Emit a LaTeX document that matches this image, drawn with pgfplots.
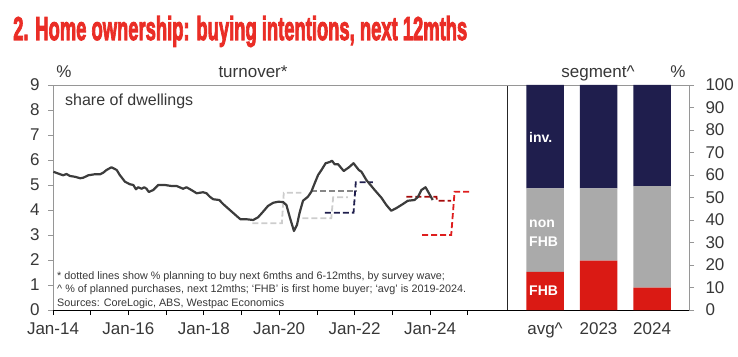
\documentclass[border=0pt]{standalone}
\usepackage{pgfplots}
\pgfplotsset{compat=1.18}
\usepackage{fontspec}
\setmainfont{Liberation Sans}
\newfontfamily\titlefont{Liberation Sans}[BoldFeatures={FakeBold=3.5}]
\definecolor{titlered}{RGB}{234,45,38}
\definecolor{navy}{RGB}{31,30,77}
\definecolor{bargray}{RGB}{170,170,170}
\definecolor{barred}{RGB}{218,26,20}
\definecolor{linecol}{RGB}{60,60,60}
\definecolor{lgray}{RGB}{205,205,205}
\definecolor{mgray}{RGB}{135,135,135}
\definecolor{dred}{RGB}{165,10,10}
\definecolor{bred}{RGB}{222,30,30}
\definecolor{labelgray}{RGB}{55,55,55}
\definecolor{axgray}{RGB}{150,150,150}
\begin{document}
\begin{tikzpicture}[x=1pt,y=1pt]
\useasboundingbox (0,0) rectangle (738,356);
\node[anchor=base west, inner sep=0, text=titlered] at (13,316) {\resizebox{454pt}{24pt}{\titlefont\bfseries 2. Home ownership: buying intentions, next 12mths}};

\begin{axis}[
 at={(53pt,46pt)}, anchor=south west, width=454pt, height=225pt, scale only axis,
 xmin=2014, xmax=2026.04, ymin=0, ymax=9,
 axis x line*=bottom, axis y line*=left,
 x axis line style={black, -, line width=0.8pt},
 y axis line style={axgray, -, line width=0.8pt},
 xtick={2014,...,2025},
 xticklabels={Jan-14,,Jan-16,,Jan-18,,Jan-20,,Jan-22,,Jan-24,},
 ytick={0,...,9},
 tick align=outside, major tick length=5pt,
 xtick style={black, line width=0.8pt}, ytick style={axgray, line width=0.8pt},
 ticklabel style={font=\fontsize{17}{17}\selectfont, text=labelgray},
 xticklabel style={yshift=-4pt},
 yticklabel style={xshift=-5pt},
 /pgf/number format/assume math mode=true,
 clip=false,
]
\addplot[lgray, line width=1.8pt, dash pattern=on 6pt off 3pt] coordinates {(2019.29,3.47) (2020.07,3.47) (2020.12,4.69) (2020.59,4.69)};
\addplot[lgray, line width=1.8pt, dash pattern=on 6pt off 3pt] coordinates {(2020.61,3.67) (2021.38,3.67) (2021.43,4.51) (2021.82,4.51)};
\addplot[mgray, line width=1.8pt, dash pattern=on 6pt off 3pt] coordinates {(2020.85,4.77) (2022.05,4.77)};
\addplot[navy, line width=1.8pt, dash pattern=on 6pt off 3pt] coordinates {(2021.21,3.89) (2021.97,3.89) (2022.03,5.11) (2022.48,5.11)};
\addplot[dred, line width=1.8pt, dash pattern=on 6pt off 3pt] coordinates {(2023.37,4.53) (2024.17,4.53) (2024.18,4.37) (2024.56,4.37)};
\addplot[bred, line width=1.8pt, dash pattern=on 6pt off 3pt] coordinates {(2023.79,3.0) (2024.56,3.0) (2024.65,4.73) (2025.05,4.73)};
\addplot[linecol, line width=2.2pt, line join=round] coordinates {
(2014.01,5.53) (2014.19,5.43) (2014.27,5.39) (2014.36,5.44) (2014.45,5.36) (2014.58,5.33) (2014.72,5.27) (2014.80,5.29) (2014.94,5.39) (2015.11,5.43) (2015.25,5.43) (2015.33,5.49) (2015.42,5.60) (2015.55,5.71) (2015.69,5.60) (2015.77,5.40) (2015.91,5.13) (2016.04,5.03) (2016.13,5.00) (2016.20,4.83) (2016.26,4.91) (2016.35,4.85) (2016.42,4.91) (2016.48,4.85) (2016.54,4.72) (2016.66,4.80) (2016.79,5.00) (2016.97,5.00) (2017.14,4.96) (2017.28,4.96) (2017.45,4.85) (2017.54,4.91) (2017.67,4.80) (2017.81,4.67) (2017.98,4.71) (2018.07,4.67) (2018.16,4.53) (2018.25,4.43) (2018.41,4.40) (2018.51,4.24) (2018.69,4.00) (2018.87,3.76) (2018.97,3.63) (2019.13,3.63) (2019.31,3.60) (2019.44,3.71) (2019.57,3.93) (2019.70,4.16) (2019.84,4.29) (2019.97,4.33) (2020.10,4.32) (2020.19,4.20) (2020.28,3.71) (2020.39,3.16) (2020.47,3.40) (2020.54,3.89) (2020.63,4.37) (2020.76,4.53) (2020.85,4.73) (2020.94,5.07) (2021.03,5.40) (2021.12,5.60) (2021.23,5.87) (2021.34,5.92) (2021.40,5.97) (2021.47,5.83) (2021.56,5.83) (2021.71,5.56) (2021.85,5.71) (2021.97,5.87) (2022.11,5.60) (2022.18,5.53) (2022.31,5.20) (2022.53,4.80) (2022.71,4.49) (2022.84,4.20) (2022.97,3.97) (2023.10,4.07) (2023.28,4.24) (2023.41,4.37) (2023.59,4.40) (2023.68,4.53) (2023.77,4.80) (2023.88,4.91) (2023.97,4.67) (2024.07,4.40)
};
\draw[axgray, line width=0.8pt] (rel axis cs:0,1) -- (rel axis cs:1,1);
\draw[black!85, line width=0.8pt] (rel axis cs:1,0) -- (rel axis cs:1,1);
\end{axis}

\begin{axis}[
 at={(507pt,46pt)}, anchor=south west, width=182pt, height=225pt, scale only axis,
 xmin=0.29, xmax=3.69, ymin=0, ymax=100,
 ybar stacked, bar width=37.5pt,
 axis x line*=bottom, axis y line*=right,
 x axis line style={black, -, line width=0.8pt},
 y axis line style={axgray, -, line width=0.8pt},
 xtick={1,2,3}, xticklabels={avg\textasciicircum,2023,2024},
 ytick={0,10,...,100},
 tick align=outside, major tick length=5pt,
 xtick style={draw=none}, ytick style={axgray, line width=0.8pt},
 ticklabel style={font=\fontsize{17}{17}\selectfont, text=labelgray},
 xticklabel style={yshift=-4pt},
 yticklabel style={anchor=west, xshift=8pt},
 /pgf/number format/assume math mode=true,
 clip=false,
]
\addplot[fill=barred, draw=none] coordinates {(1,17) (2,22) (3,10)};
\addplot[fill=bargray, draw=none] coordinates {(1,37) (2,32) (3,45)};
\addplot[fill=navy, draw=none] coordinates {(1,46) (2,46) (3,45)};
\draw[axgray, line width=0.8pt] (rel axis cs:0,1) -- (rel axis cs:1,1);
\end{axis}

\begin{scope}[font=\fontsize{17}{17}\selectfont, text=labelgray]
\node[anchor=base] at (64,278) {\%};
\node[anchor=base] at (253,278) {turnover*};
\node[anchor=base] at (598,278) {segment\textasciicircum};
\node[anchor=base] at (678,278) {\%};
\end{scope}
\node[anchor=base west, inner sep=0, text=labelgray, font=\fontsize{16}{16}\selectfont] at (65,250) {share of dwellings};
\begin{scope}[font=\fontsize{10.8}{10.8}\selectfont, text=labelgray]
\node[anchor=base west, inner sep=0] at (57,77) {* dotted lines show \% planning to buy next 6mths and 6-12mths, by survey wave;};
\node[anchor=base west, inner sep=0] at (57,64) {\textasciicircum{} \% of planned purchases, next 12mths; ‘FHB’ is first home buyer; ‘avg’ is 2019-2024.};
\node[anchor=base west, inner sep=0] at (57,50) {Sources: CoreLogic, ABS, Westpac Economics};
\end{scope}
\begin{scope}[font=\fontsize{14}{14}\selectfont\bfseries, text=white]
\node[anchor=base west, inner sep=0] at (529,213) {inv.};
\node[anchor=base west, inner sep=0] at (529,128) {non};
\node[anchor=base west, inner sep=0] at (529,110) {FHB};
\node[anchor=base west, inner sep=0] at (529,61) {FHB};
\end{scope}
\end{tikzpicture}
\end{document}
